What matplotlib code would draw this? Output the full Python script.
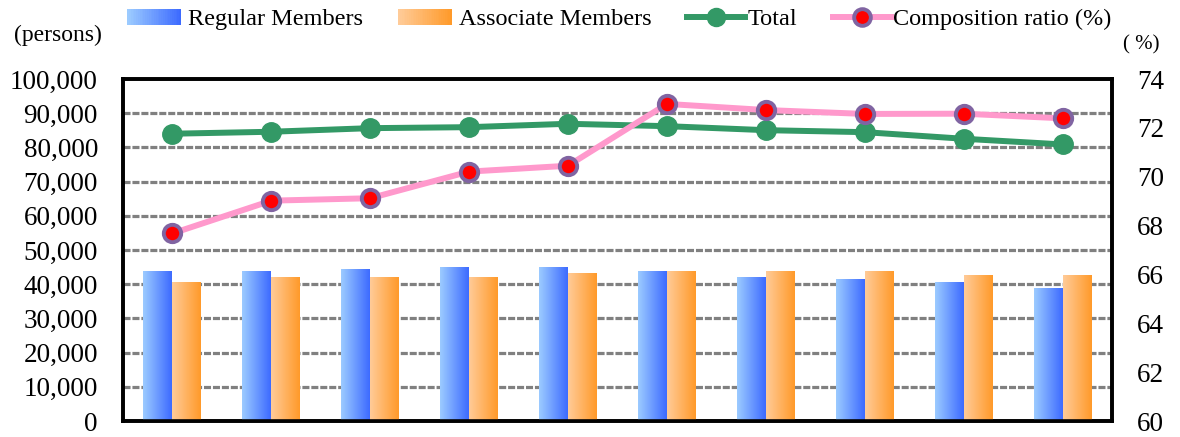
import numpy as np
import matplotlib
matplotlib.use("Agg")
import matplotlib.pyplot as plt
from matplotlib.colors import to_rgb, LinearSegmentedColormap
from matplotlib.legend_handler import HandlerBase
from matplotlib.patches import Rectangle
from matplotlib.ticker import FuncFormatter

plt.rcParams['font.family'] = ['Liberation Serif', 'DejaVu Serif']

# values (10 unlabeled periods)
regular = [43640, 43640, 44230, 44810, 44810, 43640, 41900, 41310, 40440, 38690]
associate = [40440, 41900, 41900, 41900, 43060, 43640, 43640, 43640, 42480, 42480]
total = [84000, 84580, 85630, 85920, 86910, 86210, 85040, 84460, 82530, 80870]
ratio = [67.68, 69.02, 69.12, 70.21, 70.45, 72.98, 72.73, 72.57, 72.58, 72.39]

blue_grad = ('#9ccbff', '#3d6bff')
orange_grad = ('#ffcb98', '#ff9a2a')
green = '#339966'
pink = '#ff99cc'


class GradientHandler(HandlerBase):
    """Legend patch drawn as a left-to-right colour gradient."""
    def __init__(self, c0, c1, n=30):
        super().__init__()
        self.c0 = np.array(to_rgb(c0))
        self.c1 = np.array(to_rgb(c1))
        self.n = n

    def create_artists(self, legend, orig_handle, xdescent, ydescent,
                       width, height, fontsize, trans):
        arts = []
        w = width * 0.92
        for i in range(self.n):
            t = i / (self.n - 1)
            c = self.c0 * (1 - t) + self.c1 * t
            r = Rectangle((-xdescent + i * w / self.n, -ydescent),
                          w / self.n * 1.05, height,
                          facecolor=c, edgecolor='none', transform=trans)
            arts.append(r)
        return arts


def gradient_bars(ax, bars, c0, c1):
    cmap = LinearSegmentedColormap.from_list('g', [c0, c1])
    grad = np.linspace(0, 1, 64).reshape(1, -1)
    for b in bars:
        x, w, h = b.get_x(), b.get_width(), b.get_height()
        ax.imshow(grad, cmap=cmap, extent=(x, x + w, 0, h),
                  aspect='auto', zorder=3, interpolation='bicubic')


fig = plt.figure(figsize=(11.8, 4.37), dpi=100)
ax = fig.add_axes([0.1042, 0.0366, 0.8382, 0.7826])
ax2 = ax.twinx()

x = np.arange(len(regular))
w = 0.293
b1 = ax.bar(x - w / 2, regular, w, color='none', edgecolor='none', zorder=3)
b2 = ax.bar(x + w / 2, associate, w, color='none', edgecolor='none', zorder=3)
gradient_bars(ax, b1, *blue_grad)
gradient_bars(ax, b2, *orange_grad)

ax.plot(x, total, color=green, lw=4.3, marker='o', ms=14,
        mfc=green, mec=green, zorder=5)
ax2.plot(x, ratio, color=pink, lw=4.3, marker='o', ms=12.5,
         mfc='red', mec='#8064a2', mew=2.8, zorder=5)

ax.set_xlim(-0.5, len(regular) - 0.5)
ax.set_ylim(0, 100000)
ax.set_yticks(np.arange(0, 100001, 10000))
ax.yaxis.set_major_formatter(FuncFormatter(lambda v, p: f'{int(v):,}'))
ax2.set_ylim(60, 74)
ax2.set_yticks(np.arange(60, 75, 2))

for yv in range(10000, 100000, 10000):
    ax.axhline(yv, color='#808080', lw=2.3, ls=(0, (2.2, 0.6)), zorder=1)

ax.set_xticks([])
ax.tick_params(axis='y', length=0, pad=18, labelsize=19.5)
ax2.tick_params(axis='y', length=0, pad=18, labelsize=19.5)
for a in (ax, ax2):
    for s in a.spines.values():
        s.set_linewidth(2.6)
        s.set_color('black')

fig.text(0.049, 0.918, '(persons)', fontsize=17, ha='center', va='center')
fig.text(0.967, 0.897, '( %)', fontsize=15, ha='center', va='center')

h1 = Rectangle((0, 0), 1, 1)
h2 = Rectangle((0, 0), 1, 1)
h3, = ax.plot([], [], color=green, lw=4.3, marker='o', ms=13, mfc=green, mec=green)
h4, = ax.plot([], [], color=pink, lw=4.3, marker='o', ms=12,
              mfc='red', mec='#8064a2', mew=2.8)
fig.legend([h1, h2, h3, h4],
           ['Regular Members', 'Associate Members', 'Total', 'Composition ratio (%)'],
           handler_map={h1: GradientHandler(*blue_grad),
                        h2: GradientHandler(*orange_grad)},
           loc='upper center', bbox_to_anchor=(0.525, 1.03), ncol=4,
           frameon=False, fontsize=17.5, handlelength=2.4, handleheight=0.62,
           handletextpad=0.1, columnspacing=1.45)

fig.savefig('out.png', dpi=100)
